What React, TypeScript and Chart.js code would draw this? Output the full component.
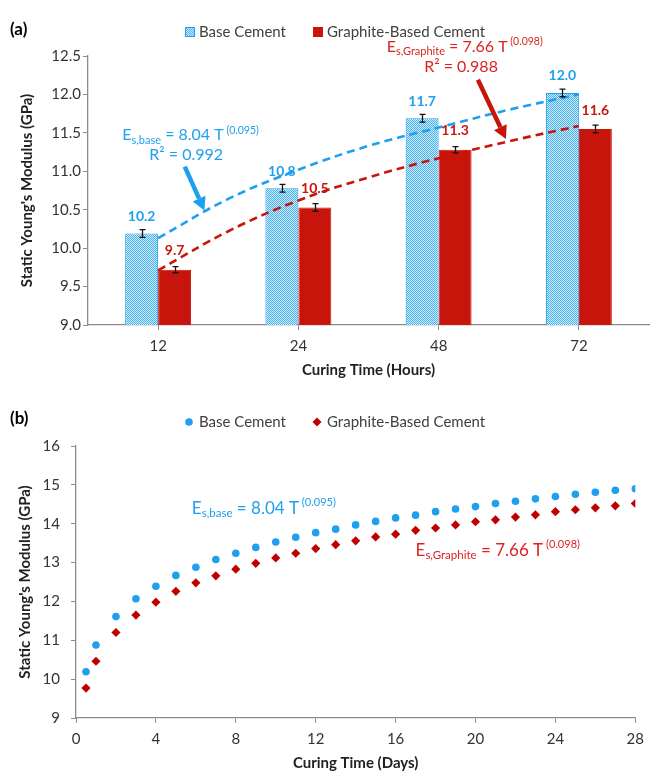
import React, { useEffect, useRef } from 'react';
import { Chart, registerables } from 'chart.js';
Chart.register(...registerables);

// ---------- (a) bar chart data ----------
const curingHours = ['12', '24', '48', '72'];
const baseCement = [10.19, 10.78, 11.69, 12.02];
const graphiteCement = [9.72, 10.53, 11.28, 11.55];
const baseErr = [0.05, 0.05, 0.05, 0.05];
const graphiteErr = [0.04, 0.05, 0.04, 0.05];
const baseLabels = ['10.2', '10.8', '11.7', '12.0'];
const graphiteLabels = ['9.7', '10.5', '11.3', '11.6'];
// power trendlines at category-index positions (1 = 12 h ... 4 = 72 h)
const trendX = [1, 1.5, 2, 2.5, 3, 3.5, 4];
const baseTrend = [10.13, 10.64, 11.02, 11.33, 11.57, 11.8, 12.0];
const graphiteTrend = [9.71, 10.22, 10.62, 10.92, 11.17, 11.39, 11.59];

// ---------- (b) scatter data ----------
const curingDays = [0.5, 1, 2, 3, 4, 5, 6, 7, 8, 9, 10, 11, 12, 13, 14, 15, 16, 17, 18, 19, 20, 21, 22, 23, 24, 25, 26, 27, 28];
const baseModel = [10.19, 10.88, 11.61, 12.07, 12.39, 12.67, 12.88, 13.08, 13.24, 13.39, 13.53, 13.65, 13.77, 13.86, 13.97, 14.06, 14.15, 14.22, 14.31, 14.38, 14.44, 14.52, 14.58, 14.64, 14.7, 14.76, 14.81, 14.86, 14.9];
const graphiteModel = [9.77, 10.46, 11.2, 11.65, 11.98, 12.26, 12.48, 12.66, 12.83, 12.98, 13.12, 13.24, 13.36, 13.46, 13.56, 13.66, 13.73, 13.83, 13.89, 13.97, 14.05, 14.1, 14.17, 14.23, 14.31, 14.36, 14.41, 14.46, 14.52];

const FONT = 'Lato, "Open Sans", sans-serif';
const BLUE = '#1E9FF0';
const RED = '#C8150C';
const RED_TXT = '#DC2323';
const AXIS = '#8C8C8C';
const TXT = '#333333';

type Part = { t: string; size: number; dy: number };

function drawRich(ctx: CanvasRenderingContext2D, parts: Part[], x: number, y: number, color: string, align: 'left' | 'center') {
  ctx.save();
  ctx.fillStyle = color;
  ctx.textBaseline = 'middle';
  ctx.textAlign = 'left';
  let w = 0;
  for (const p of parts) {
    ctx.font = `${p.size}px ${FONT}`;
    w += ctx.measureText(p.t).width;
  }
  let cx = align === 'center' ? x - w / 2 : x;
  for (const p of parts) {
    ctx.font = `${p.size}px ${FONT}`;
    ctx.fillText(p.t, cx, y + p.dy);
    cx += ctx.measureText(p.t).width;
  }
  ctx.restore();
}

function drawArrow(ctx: CanvasRenderingContext2D, x1: number, y1: number, x2: number, y2: number, color: string) {
  const lw = 4.5, head = 13, hw = 7;
  const ang = Math.atan2(y2 - y1, x2 - x1);
  const bx = x2 - head * Math.cos(ang);
  const by = y2 - head * Math.sin(ang);
  ctx.save();
  ctx.strokeStyle = color;
  ctx.fillStyle = color;
  ctx.lineWidth = lw;
  ctx.beginPath();
  ctx.moveTo(x1, y1);
  ctx.lineTo(bx, by);
  ctx.stroke();
  ctx.beginPath();
  ctx.moveTo(x2, y2);
  ctx.lineTo(bx + hw * Math.sin(ang), by - hw * Math.cos(ang));
  ctx.lineTo(bx - hw * Math.sin(ang), by + hw * Math.cos(ang));
  ctx.closePath();
  ctx.fill();
  ctx.restore();
}

function makePattern(): CanvasPattern | string {
  const c = document.createElement('canvas');
  c.width = 2;
  c.height = 2;
  const p = c.getContext('2d');
  if (!p) return '#8ACCF5';
  p.fillStyle = '#D2EDFC';
  p.fillRect(0, 0, 2, 2);
  p.fillStyle = '#45AEEF';
  p.fillRect(0, 0, 1, 1);
  p.fillRect(1, 1, 1, 1);
  const pat = p.createPattern(c, 'repeat');
  return pat || '#8ACCF5';
}

const topDecor = {
  id: 'topDecor',
  afterDatasetsDraw(chart: any) {
    const ctx: CanvasRenderingContext2D = chart.ctx;
    const ys = chart.scales.y;
    const xs = chart.scales.x;
    const m0 = chart.getDatasetMeta(0);
    const m1 = chart.getDatasetMeta(1);
    // error bars
    const drawErr = (meta: any, vals: number[], errs: number[]) => {
      ctx.save();
      ctx.strokeStyle = '#111';
      ctx.lineWidth = 1.3;
      meta.data.forEach((el: any, i: number) => {
        const x = Math.round(el.x) + 0.5;
        const yt = ys.getPixelForValue(vals[i] + errs[i]);
        const yb = ys.getPixelForValue(vals[i] - errs[i]);
        ctx.beginPath();
        ctx.moveTo(x, yt); ctx.lineTo(x, yb);
        ctx.moveTo(x - 3, yt); ctx.lineTo(x + 3, yt);
        ctx.moveTo(x - 3, yb); ctx.lineTo(x + 3, yb);
        ctx.stroke();
      });
      ctx.restore();
    };
    drawErr(m0, baseCement, baseErr);
    drawErr(m1, graphiteCement, graphiteErr);
    // value labels
    ctx.save();
    ctx.font = `bold 14px ${FONT}`;
    ctx.textAlign = 'center';
    ctx.textBaseline = 'middle';
    m0.data.forEach((el: any, i: number) => {
      ctx.fillStyle = BLUE;
      ctx.fillText(baseLabels[i], el.x, el.y - 17);
    });
    m1.data.forEach((el: any, i: number) => {
      ctx.fillStyle = RED;
      ctx.fillText(graphiteLabels[i], el.x, el.y - 19);
    });
    ctx.restore();
    // equations
    drawRich(ctx, [
      { t: 'E', size: 16, dy: 0 },
      { t: 's,base', size: 11, dy: 5 },
      { t: ' = 8.04 T', size: 16, dy: 0 },
      { t: ' (0.095)', size: 10.5, dy: -5 },
    ], xs.getPixelForValue(0.745), ys.getPixelForValue(11.47), BLUE, 'left');
    drawRich(ctx, [
      { t: 'R² = 0.992', size: 16, dy: 0 },
    ], xs.getPixelForValue(1.2), ys.getPixelForValue(11.21), BLUE, 'center');
    drawRich(ctx, [
      { t: 'E', size: 16, dy: 0 },
      { t: 's,Graphite', size: 11, dy: 5 },
      { t: ' = 7.66 T', size: 16, dy: 0 },
      { t: ' (0.098)', size: 10.5, dy: -5 },
    ], xs.getPixelForValue(2.63), ys.getPixelForValue(12.625), RED_TXT, 'left');
    drawRich(ctx, [
      { t: 'R² = 0.988', size: 16, dy: 0 },
    ], xs.getPixelForValue(3.16), ys.getPixelForValue(12.36), RED_TXT, 'center');
    // arrows
    drawArrow(ctx, xs.getPixelForValue(1.19), ys.getPixelForValue(11.06), xs.getPixelForValue(1.33), ys.getPixelForValue(10.49), BLUE);
    drawArrow(ctx, xs.getPixelForValue(3.28), ys.getPixelForValue(12.19), xs.getPixelForValue(3.48), ys.getPixelForValue(11.42), RED);
    // panel label and legend
    ctx.save();
    ctx.fillStyle = '#000';
    ctx.font = `bold 17px ${FONT}`;
    ctx.textBaseline = 'middle';
    ctx.textAlign = 'left';
    ctx.fillText('(a)', 10, 30);
    ctx.font = `15px ${FONT}`;
    ctx.fillStyle = makePattern() as any;
    ctx.fillRect(185, 27, 10, 10);
    ctx.strokeStyle = BLUE;
    ctx.lineWidth = 1;
    ctx.strokeRect(185.5, 27.5, 9, 9);
    ctx.fillStyle = '#404040';
    ctx.fillText(chart.data.datasets[0].label, 199, 32);
    ctx.fillStyle = RED;
    ctx.fillRect(313, 27, 10, 10);
    ctx.fillStyle = '#404040';
    ctx.fillText(chart.data.datasets[1].label, 327, 32);
    ctx.restore();
  },
};

const bottomDecor = {
  id: 'bottomDecor',
  afterDatasetsDraw(chart: any) {
    const ctx: CanvasRenderingContext2D = chart.ctx;
    const xs = chart.scales.x;
    const ys = chart.scales.y;
    drawRich(ctx, [
      { t: 'E', size: 17, dy: 0 },
      { t: 's,base', size: 11.5, dy: 5 },
      { t: ' = 8.04 T', size: 17, dy: 0 },
      { t: ' (0.095)', size: 11, dy: -6 },
    ], xs.getPixelForValue(5.8), ys.getPixelForValue(14.4), BLUE, 'left');
    drawRich(ctx, [
      { t: 'E', size: 17, dy: 0 },
      { t: 's,Graphite', size: 11.5, dy: 5 },
      { t: ' = 7.66 T', size: 17, dy: 0 },
      { t: ' (0.098)', size: 11, dy: -6 },
    ], xs.getPixelForValue(17.0), ys.getPixelForValue(13.32), RED_TXT, 'left');
    ctx.save();
    ctx.fillStyle = '#000';
    ctx.font = `bold 17px ${FONT}`;
    ctx.textBaseline = 'middle';
    ctx.textAlign = 'left';
    ctx.fillText('(b)', 10, 34);
    ctx.font = `15px ${FONT}`;
    ctx.fillStyle = BLUE;
    ctx.beginPath();
    ctx.arc(189, 37, 3.8, 0, Math.PI * 2);
    ctx.fill();
    ctx.fillStyle = '#404040';
    ctx.fillText(chart.data.datasets[0].label, 199, 37);
    ctx.fillStyle = '#C00000';
    ctx.beginPath();
    ctx.moveTo(317, 32.5); ctx.lineTo(321.5, 37); ctx.lineTo(317, 41.5); ctx.lineTo(312.5, 37);
    ctx.closePath();
    ctx.fill();
    ctx.fillStyle = '#404040';
    ctx.fillText(chart.data.datasets[1].label, 327, 37);
    ctx.restore();
  },
};

export default function App() {
  const topRef = useRef<HTMLCanvasElement>(null);
  const botRef = useRef<HTMLCanvasElement>(null);

  useEffect(() => {
    if (!topRef.current || !botRef.current) return;
    const pattern = makePattern();
    const top = new Chart(topRef.current, {
      type: 'bar',
      data: {
        datasets: [
          {
            label: 'Base Cement',
            data: baseCement.map((y, i) => ({ x: i + 1, y })) as any,
            backgroundColor: pattern as any,
            borderColor: BLUE,
            borderWidth: 1,
            categoryPercentage: 0.47,
            barPercentage: 1,
            order: 2,
          },
          {
            label: 'Graphite-Based Cement',
            data: graphiteCement.map((y, i) => ({ x: i + 1, y })) as any,
            backgroundColor: RED,
            borderColor: RED,
            borderWidth: 1,
            categoryPercentage: 0.47,
            barPercentage: 1,
            order: 2,
          },
          {
            type: 'line',
            label: 'Base trend',
            data: trendX.map((x, i) => ({ x, y: baseTrend[i] })) as any,
            borderColor: BLUE,
            borderWidth: 2.6,
            borderDash: [8, 5],
            pointRadius: 0,
            tension: 0.4,
            fill: false,
            order: 0,
          } as any,
          {
            type: 'line',
            label: 'Graphite trend',
            data: trendX.map((x, i) => ({ x, y: graphiteTrend[i] })) as any,
            borderColor: RED,
            borderWidth: 2.6,
            borderDash: [8, 5],
            pointRadius: 0,
            tension: 0.4,
            fill: false,
            order: 0,
          } as any,
        ],
      },
      options: {
        responsive: false,
        animation: false,
        layout: { padding: { left: 0, right: 2, top: 56, bottom: 6 } },
        plugins: { legend: { display: false }, tooltip: { enabled: false } },
        scales: {
          x: {
            type: 'linear',
            min: 0.5,
            max: 4.5,
            offset: false,
            afterBuildTicks: (s: any) => { s.ticks = curingHours.map((_, i) => ({ value: i + 1 })); },
            grid: { display: true, offset: false, drawOnChartArea: false, drawTicks: true, tickLength: 5, color: AXIS },
            border: { display: true, color: AXIS, width: 1.3 },
            ticks: { font: { size: 15, family: FONT }, color: TXT, padding: 7, callback: (v: any) => curingHours[Math.round(Number(v)) - 1] ?? '' },
            title: { display: true, text: 'Curing Time (Hours)', font: { size: 15, weight: 'bold', family: FONT }, color: '#222', padding: 0 },
            afterFit: (s: any) => { s.height = 54; },
          },
          y: {
            min: 9,
            max: 12.5,
            ticks: { stepSize: 0.5, font: { size: 15, family: FONT }, color: TXT, padding: 2, callback: (v: any) => Number(v).toFixed(1) },
            grid: { display: true, drawOnChartArea: false, drawTicks: true, tickLength: 5, color: AXIS },
            border: { display: true, color: AXIS, width: 1.3 },
            title: { display: true, text: "Static Young's Modulus (GPa)", font: { size: 15, weight: 'bold', family: FONT }, color: '#222', padding: { top: 18, bottom: 0 } },
            afterFit: (s: any) => { s.width = 88; },
          },
        },
      } as any,
      plugins: [topDecor],
    });

    const bottom = new Chart(botRef.current, {
      type: 'scatter',
      data: {
        datasets: [
          {
            label: 'Base Cement',
            data: curingDays.map((d, i) => ({ x: d, y: baseModel[i] })),
            pointStyle: 'circle',
            pointRadius: 3.8,
            backgroundColor: BLUE,
            borderWidth: 0,
          },
          {
            label: 'Graphite-Based Cement',
            data: curingDays.map((d, i) => ({ x: d, y: graphiteModel[i] })),
            pointStyle: 'rectRot',
            pointRadius: 4.6,
            backgroundColor: '#C00000',
            borderWidth: 0,
          },
        ],
      },
      options: {
        responsive: false,
        animation: false,
        layout: { padding: { left: 0, right: 9, top: 61, bottom: 0 } },
        plugins: { legend: { display: false }, tooltip: { enabled: false } },
        scales: {
          x: {
            type: 'linear',
            min: 0,
            max: 28,
            ticks: { stepSize: 4, font: { size: 15, family: FONT }, color: TXT, padding: 7 },
            grid: { display: true, drawOnChartArea: false, drawTicks: true, tickLength: 5, color: AXIS },
            border: { display: true, color: AXIS, width: 1.3 },
            title: { display: true, text: 'Curing Time (Days)', font: { size: 15, weight: 'bold', family: FONT }, color: '#222', padding: 0 },
            afterFit: (s: any) => { s.height = 54; },
          },
          y: {
            min: 9,
            max: 16,
            ticks: { stepSize: 1, font: { size: 15, family: FONT }, color: TXT, padding: 11 },
            grid: { display: true, drawOnChartArea: false, drawTicks: true, tickLength: 5, color: AXIS },
            border: { display: true, color: AXIS, width: 1.3 },
            title: { display: true, text: "Static Young's Modulus (GPa)", font: { size: 15, weight: 'bold', family: FONT }, color: '#222', padding: { top: 16, bottom: 0 } },
            afterFit: (s: any) => { s.width = 76; },
          },
        },
      } as any,
      plugins: [bottomDecor],
    });

    return () => {
      top.destroy();
      bottom.destroy();
    };
  }, []);

  return (
    <div style={{ position: 'absolute', left: 0, top: 0, width: 651, height: 772, background: '#fff' }}>
      <canvas ref={topRef} width={651} height={385} style={{ position: 'absolute', left: 0, top: 0, display: 'block' }} />
      <canvas ref={botRef} width={651} height={387} style={{ position: 'absolute', left: 0, top: 385, display: 'block' }} />
    </div>
  );
}
